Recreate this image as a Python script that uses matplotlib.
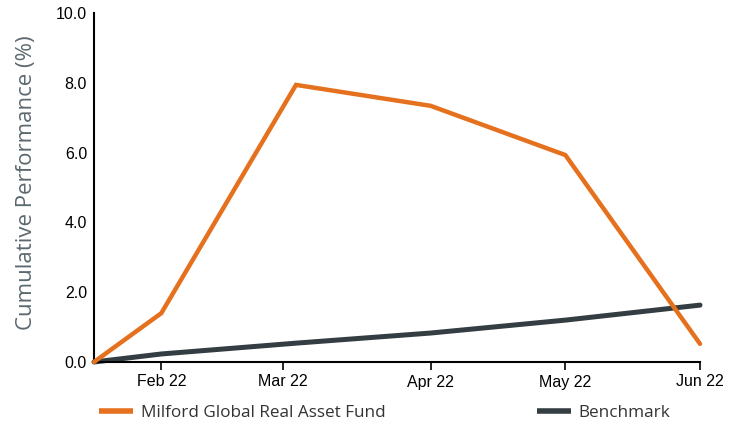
import matplotlib
matplotlib.use("Agg")
import matplotlib.pyplot as plt
from matplotlib.lines import Line2D

# x positions in months (Feb 22 = 1 ... Jun 22 = 5), start mid-January
months = [0.5, 1, 2, 3, 4, 5]
fund = [0.0, 1.40, 7.94, 7.34, 5.93, 0.52]
benchmark = [0.0, 0.23, 0.54, 0.83, 1.20, 1.63]

tick_pos = [1, 1.9, 3, 4, 5]
tick_labels = ["Feb 22", "Mar 22", "Apr 22", "May 22", "Jun 22"]
y_ticks = [0, 2, 4, 6, 8, 10]

fund_name = "Milford Global Real Asset Fund"
bench_name = "Benchmark"

orange = "#e5711f"
slate = "#333d42"

fig = plt.figure(figsize=(7.35, 4.25), dpi=100)
ax = fig.add_axes([94 / 735, 1 - 362 / 425, (700 - 94) / 735, (362 - 13) / 425])

ax.plot(months, benchmark, color=slate, lw=3.6, solid_capstyle="round",
        solid_joinstyle="round", zorder=2, clip_on=False)
ax.plot(months, fund, color=orange, lw=3.2, solid_capstyle="round",
        solid_joinstyle="miter", zorder=3, clip_on=False)

ax.set_xlim(0.5, 5)
ax.set_ylim(0, 10)
ax.set_xticks(tick_pos)
ax.set_xticklabels(tick_labels, fontsize=11.5, family="Liberation Sans")
ax.set_yticks(y_ticks)
ax.set_yticklabels([f"{v:.1f}" for v in y_ticks], fontsize=11.5,
                   family="Liberation Sans")
ax.tick_params(axis="x", length=6, width=1.2, color="black", pad=3)
ax.tick_params(axis="y", length=0, pad=5)

for s in ["top", "right"]:
    ax.spines[s].set_visible(False)
for s in ["left", "bottom"]:
    ax.spines[s].set_linewidth(1.5)
    ax.spines[s].set_color("black")

ax.set_ylabel("Cumulative Performance (%)", fontsize=16, color="#5c6870",
              family="Open Sans")
ax.yaxis.set_label_coords(-0.094, 0.515)

h1 = Line2D([], [], color=orange, lw=4, solid_capstyle="butt")
h2 = Line2D([], [], color=slate, lw=4, solid_capstyle="butt")
leg_kw = dict(frameon=False, handlelength=2.0, handletextpad=0.45,
              borderaxespad=0, borderpad=0, prop={"family": "Open Sans", "size": 12.3})
leg1 = fig.legend([h1], [fund_name], loc="center left",
                  bbox_to_anchor=(99 / 735, 1 - 413 / 425), **leg_kw)
leg2 = fig.legend([h2], [bench_name], loc="center left",
                  bbox_to_anchor=(537 / 735, 1 - 413 / 425), **leg_kw)
for leg in (leg1, leg2):
    for t in leg.get_texts():
        t.set_color("#333333")

fig.savefig("out.png", dpi=100)
